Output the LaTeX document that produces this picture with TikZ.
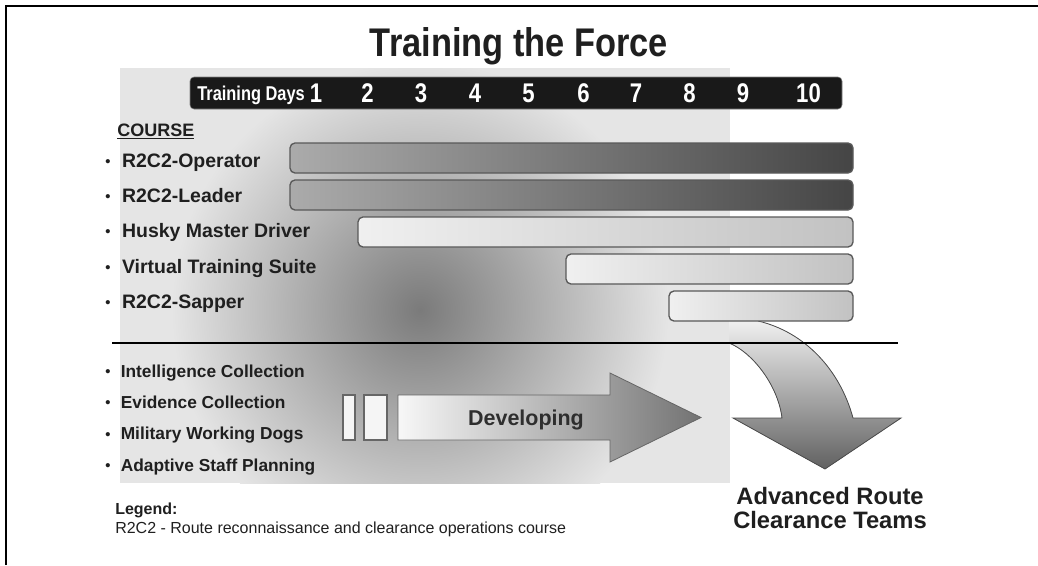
\documentclass[tikz,border=0pt]{standalone}
\usepackage{fontspec}
\setmainfont{Liberation Sans}
\newfontfamily\narrowfont[FakeStretch=0.82]{Liberation Sans}
\newfontfamily\titlefont[FakeStretch=0.86]{Liberation Sans}
\usetikzlibrary{positioning}
\newcommand{\pt}{\raisebox{0.05em}{\fontsize{11}{11}\selectfont\textbullet}\hspace{0.6em}}

\begin{document}
\begin{tikzpicture}[x=0.75pt, y=-0.75pt, node distance=26.6pt,
    lbl/.style = {anchor=base west, inner sep=0pt, text=black!88, font=\fontsize{14.6}{16}\selectfont\bfseries},
    sub/.style = {lbl, font=\fontsize{13}{15}\selectfont\bfseries},
    big/.style = {anchor=base, inner sep=0pt, text=black!88, font=\fontsize{17.8}{20}\selectfont\bfseries},
    day/.style = {anchor=base, inner sep=0pt, text=white, font=\narrowfont\fontsize{20.25}{22}\selectfont\bfseries},
    bar/.style = {draw=black!65, line width=1pt, rounded corners=3.75pt, minimum height=22.5pt, inner sep=0pt},
    dark/.style = {bar, left color=black!33, right color=black!73},
    light/.style = {bar, left color=black!6, right color=black!24},
    slot/.style = {draw=black!60, fill=black!4, line width=0.8pt, minimum height=33.75pt, inner sep=0pt}]

    \useasboundingbox (0,0) rectangle (1038,565);
    % Cornice
    \draw[line width=1.5pt] (6,565) -- (6,6) -- (1038,6);

    % Sfondo sfumato
    \begin{scope}
        \clip (120,68) rectangle (730,483);
        \fill[black!10] (120,68) rectangle (730,483);
        \shade[inner color=black!52, outer color=black!10] (420,310) circle (250);
    \end{scope}

    % Titolo e barra dei giorni
    \node[big, font=\titlefont\fontsize{30}{32}\selectfont\bfseries] (title) at (519,56.3) {Training the Force};
    \node[draw=black!50, fill=black!90, rounded corners=3pt, minimum width=489pt, minimum height=24pt] (days) at (516,93) {};
    \node[day, anchor=base west, font=\narrowfont\fontsize{15}{17}\selectfont\bfseries] (td) at (197,100.2) {Training Days};
    \foreach \n/\x in {1/316, 2/367.5, 3/421, 4/475, 5/528.5, 6/583.5, 7/636, 8/689.5, 9/743, 10/808.5}
        \node[day] (d\n) at (\x,102.7) {\n};

    % Freccia curva verso i team
    \fill[top color=black!6, bottom color=black!62]
        (729,321) -- (758,321) .. controls (805,332) and (840,370) .. (853,418)
        -- (901,418) -- (825,469) -- (733,418) -- (782,418)
        .. controls (778,385) and (752,352) .. (729,343) -- cycle;
    \draw[black!70, line width=0.6pt]
        (758,321) .. controls (805,332) and (840,370) .. (853,418)
        -- (901,418) -- (825,469) -- (733,418) -- (782,418)
        .. controls (778,385) and (752,352) .. (729,343);

    % Corsi
    \node[lbl, font=\fontsize{13.5}{15}\selectfont\bfseries] (crs) at (117,136.5) {\underline{COURSE}};
    \node[dark, minimum width=422.25pt] (bop) at (571.5,158) {};
    \node[dark, minimum width=422.25pt] (bld) at (571.5,195) {};
    \node[light, minimum width=371.25pt] (bhd) at (605.5,232) {};
    \node[light, minimum width=215.25pt] (bvt) at (709.5,269) {};
    \node[light, minimum width=138pt] (bsp) at (761,306) {};

    \node[lbl] (op) at (105,167) {\pt R2C2-Operator};
    \node[lbl, below=of op.base west, anchor=base west] (ld) {\pt R2C2-Leader};
    \node[lbl, below=of ld.base west, anchor=base west] (hd) {\pt Husky Master Driver};
    \node[lbl, below=of hd.base west, anchor=base west] (vt) {\pt Virtual Training Suite};
    \node[lbl, below=of vt.base west, anchor=base west] (sp) {\pt R2C2-Sapper};

    \draw[line width=1.5pt] (112,343) -- (898,343);

    % In sviluppo
    \node[sub] (ic) at (105,377.2) {\pt Intelligence Collection};
    \node[sub, below=23.5pt of ic.base west, anchor=base west] (ec) {\pt Evidence Collection};
    \node[sub, below=23.5pt of ec.base west, anchor=base west] (wd) {\pt Military Working Dogs};
    \node[sub, below=23.5pt of wd.base west, anchor=base west] (sf) {\pt Adaptive Staff Planning};

    \node[slot, minimum width=9pt] (s1) at (349,417.5) {};
    \node[slot, minimum width=17.25pt] (s2) at (375.5,417.5) {};
    \draw[black!60, line width=0.6pt, left color=black!3, right color=black!55]
        (398,395) -- (610,395) -- (610,373) -- (701,417.5) -- (610,462) -- (610,440) -- (398,440) -- cycle;
    \node[big, font=\fontsize{16.1}{18}\selectfont\bfseries, text=black!82] (dev) at (526,425.7) {Developing};

    \node[big] (art1) at (830,504.8) {Advanced Route};
    \node[big] (art2) [below=18pt of art1.base, anchor=base] {Clearance Teams};

    % Legenda
    \node[lbl, font=\fontsize{12}{14}\selectfont\bfseries] (lg) at (115,514.7) {Legend:};
    \node[lbl, font=\fontsize{12}{14}\selectfont, below=13.9pt of lg.base west, anchor=base west] (lgt) {R2C2 - Route reconnaissance and clearance operations course};

\end{tikzpicture}
\end{document}
